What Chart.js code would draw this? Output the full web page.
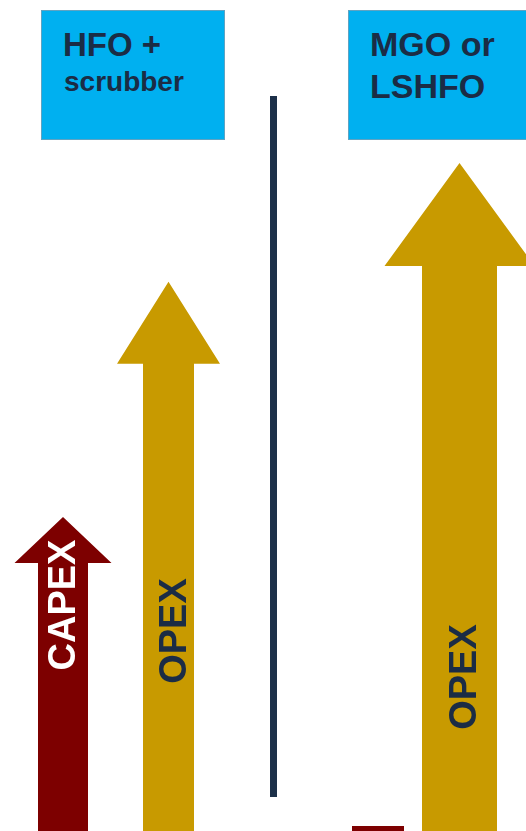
<!DOCTYPE html>
<html>
<head>
<meta charset="utf-8">
<script src="https://cdn.jsdelivr.net/npm/chart.js@4.4.1/dist/chart.umd.min.js"></script>
<style>
    html, body { margin: 0; padding: 0; background: #fff; overflow: hidden; }
    body { width: 526px; height: 831px; position: relative; font-family: "Liberation Sans", Arial, sans-serif; }
    .panel { position: absolute; top: 0; height: 831px; }
    .box { position: absolute; top: 10px; width: 184px; height: 130px; box-sizing: border-box;
           background: #00b0f0; border: 1px solid #5fa3c2; }
    .title { position: absolute; font-weight: bold; color: #1b2c45; line-height: 1; white-space: nowrap; }
    .divider { position: absolute; left: 270px; top: 96px; width: 7px; height: 701px; background: #1c3049; }
</style>
</head>
<body>
<div class="panel" style="left:0;width:273px"><canvas id="hfoChart" width="273" height="831"></canvas></div>
<div class="panel" style="left:273px;width:253px"><canvas id="mgoChart" width="253" height="831"></canvas></div>

<div class="box" style="left:41px"></div>
<div class="title" style="left:63px;top:28px;font-size:33px">HFO +</div>
<div class="title" style="left:64px;top:68px;font-size:28px">scrubber</div>

<div class="box" style="left:348px"></div>
<div class="title" style="left:370px;top:27px;font-size:34px">MGO or</div>
<div class="title" style="left:370px;top:69px;font-size:34px">LSHFO</div>

<div class="divider"></div>

<script>
// data
const panels = ['HFO + scrubber', 'MGO or LSHFO'];
const costTypes = ['CAPEX', 'OPEX'];
const hfoScrubberCost = [37.8, 66.1];
const mgoLshfoCost = [0.6, 80.4];

const CAPEX_RED = '#7d0000';
const OPEX_GOLD = '#c89a00';

// draws each bar as an arrow (shaft + head) with a rotated label
const arrowShapes = {
    id: 'arrowShapes',
    afterDatasetsDraw(chart, args, opts) {
        const ctx = chart.ctx;
        const meta = chart.getDatasetMeta(0);
        meta.data.forEach((bar, i) => {
            const x = bar.x, tip = bar.y, base = bar.base;
            const sw = opts.shaftWidth[i] / 2;
            const hw = opts.headWidth[i] / 2;
            const hh = opts.headHeight[i];
            ctx.save();
            ctx.fillStyle = opts.colors[i];
            ctx.beginPath();
            if (base - tip > hh + 2) {
                const neck = tip + hh;
                ctx.moveTo(x - sw, base);
                ctx.lineTo(x - sw, neck);
                ctx.lineTo(x - hw, neck);
                ctx.lineTo(x, tip);
                ctx.lineTo(x + hw, neck);
                ctx.lineTo(x + sw, neck);
                ctx.lineTo(x + sw, base);
            } else {
                ctx.rect(x - sw, tip, sw * 2, base - tip);
            }
            ctx.closePath();
            ctx.fill();

            if (opts.labelRise[i] != null) {
                ctx.translate(x + opts.labelDx[i], base - opts.labelRise[i]);
                ctx.rotate(-Math.PI / 2);
                ctx.font = 'bold 38px "Liberation Sans", Arial, sans-serif';
                ctx.textAlign = 'center';
                ctx.textBaseline = 'alphabetic';
                ctx.fillStyle = opts.textColors[i];
                ctx.fillText(chart.data.labels[i], 0, 13.6);
            }
            ctx.restore();
        });
    }
};

function makeChart(id, title, values, padding, style) {
    return new Chart(document.getElementById(id), {
        type: 'bar',
        data: {
            labels: costTypes,
            datasets: [{
                label: title,
                data: values,
                backgroundColor: 'rgba(0,0,0,0)',
                borderWidth: 0
            }]
        },
        options: {
            responsive: false,
            animation: false,
            layout: { padding: padding },
            scales: {
                x: { display: false },
                y: { display: false, min: 0, max: 100 }
            },
            plugins: {
                legend: { display: false },
                tooltip: { enabled: false },
                arrowShapes: style
            }
        },
        plugins: [arrowShapes]
    });
}

makeChart('hfoChart', panels[0], hfoScrubberCost, { left: 10.25, right: 51.75, top: 0, bottom: 0 }, {
    shaftWidth: [50, 51],
    headWidth: [97, 103],
    headHeight: [46, 82],
    labelRise: [226, 200],
    labelDx: [-2, 4],
    colors: [CAPEX_RED, OPEX_GOLD],
    textColors: ['#ffffff', '#1b2c45']
});

makeChart('mgoChart', panels[1], mgoLshfoCost, { left: 64.25, right: 25.75, top: 0, bottom: 0 }, {
    shaftWidth: [52, 75],
    headWidth: [52, 150],
    headHeight: [0, 103],
    labelRise: [null, 154],
    labelDx: [0, 3],
    colors: [CAPEX_RED, OPEX_GOLD],
    textColors: ['#ffffff', '#1b2c45']
});
</script>
</body>
</html>
